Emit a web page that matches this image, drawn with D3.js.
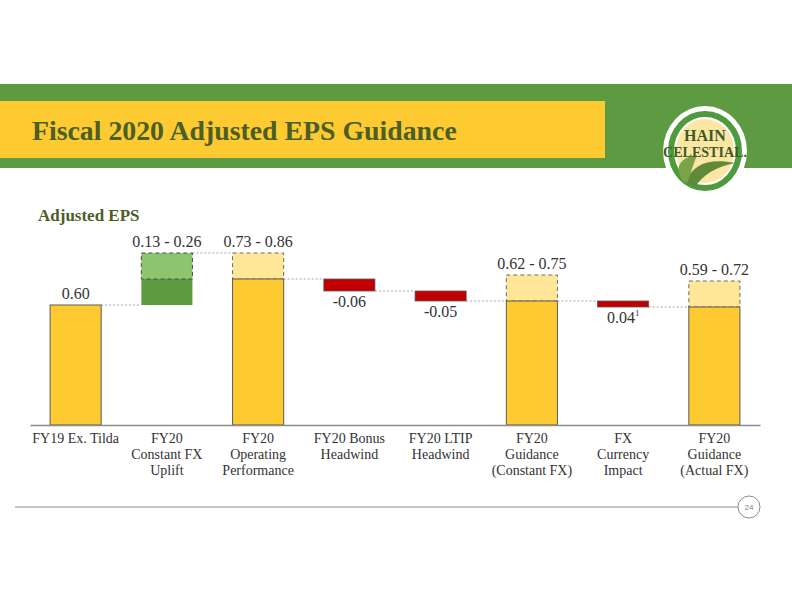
<!DOCTYPE html>
<html><head><meta charset="utf-8">
<script src="https://cdn.jsdelivr.net/npm/d3@7"></script>
<style>body{margin:0;background:#fff}svg{display:block}</style>
</head><body>
<svg id="c" width="792" height="612"></svg>
<script>
// ---- data ----
const categories = [
  ["FY19 Ex. Tilda"],
  ["FY20", "Constant FX", "Uplift"],
  ["FY20", "Operating", "Performance"],
  ["FY20 Bonus", "Headwind"],
  ["FY20 LTIP", "Headwind"],
  ["FY20", "Guidance", "(Constant FX)"],
  ["FX", "Currency", "Impact"],
  ["FY20", "Guidance", "(Actual FX)"]
];
const kinds   = ["total", "uplift", "total", "down", "down", "total", "down", "total"];
const lowVals = [0.60, 0.13, 0.73, -0.06, -0.05, 0.62, -0.03, 0.59];
const highVals= [0.60, 0.26, 0.86, -0.06, -0.05, 0.75, -0.03, 0.72];
const valueLabels = ["0.60", "0.13 - 0.26", "0.73 - 0.86", "-0.06", "-0.05", "0.62 - 0.75", "0.04", "0.59 - 0.72"];
const footnotes = ["", "", "", "", "", "", "1", ""];

// ---- layout ----
const svg = d3.select("#c");
const serif = "'Liberation Serif', 'DejaVu Serif', serif";
const olive = "#4b5e26";

// banner
svg.append("rect").attr("x",0).attr("y",84).attr("width",792).attr("height",84).attr("fill","#5d9a42");
svg.append("rect").attr("x",0).attr("y",101).attr("width",605).attr("height",57).attr("fill","#fdca31");
svg.append("text").attr("x",32).attr("y",140).attr("font-family",serif).attr("font-weight","bold")
  .attr("font-size",27.8).attr("fill",olive).text("Fiscal 2020 Adjusted EPS Guidance");

// logo
const lg = svg.append("g").attr("transform","translate(705,151)");
lg.append("ellipse").attr("rx",42).attr("ry",45).attr("fill","#ffffff");
lg.append("ellipse").attr("rx",34).attr("ry",37).attr("fill","none").attr("stroke","#4f9a3c").attr("stroke-width",6);
lg.append("ellipse").attr("rx",29).attr("ry",32).attr("fill","#fbe6a4");
lg.append("path").attr("d","M-20,32 C-12,12 5,7 30,12 C10,16 -2,24 -10,36 Z").attr("fill","#5f8a3a");
lg.append("path").attr("d","M-22,30 C-32,16 -24,6 -8,4 C-12,14 -14,22 -18,32 Z").attr("fill","#7aa34a");
lg.append("text").attr("y",-10).attr("text-anchor","middle").attr("font-family",serif).attr("font-weight","bold")
  .attr("font-size",16).attr("fill","#3d5a26").text("HAIN");
lg.append("text").attr("y",6).attr("text-anchor","middle").attr("font-family",serif).attr("font-weight","bold")
  .attr("font-size",14).attr("fill","#3d5a26").attr("textLength",84).attr("lengthAdjust","spacingAndGlyphs").text("CELESTIAL.");

// subtitle
svg.append("text").attr("x",38).attr("y",221).attr("font-family",serif).attr("font-weight","bold")
  .attr("font-size",17).attr("fill",olive).text("Adjusted EPS");

// scales
const x = d3.scaleBand().domain(d3.range(categories.length)).range([30,760]).paddingInner(0.44).paddingOuter(0.22);
const y = d3.scaleLinear().domain([0,1]).range([425,225]);
const bw = x.bandwidth();

// waterfall geometry
let running = 0;
const bars = categories.map((c,i)=>{
  const k = kinds[i];
  let o;
  if (k === "total") { o = {base:0, solid:lowVals[i], top:highVals[i]}; running = lowVals[i]; }
  else if (k === "uplift") { o = {base:running, solid:running+lowVals[i], top:running+highVals[i]}; running += lowVals[i]; }
  else { o = {base:running+lowVals[i], solid:running, top:running}; running += lowVals[i]; }
  o.end = running; o.i = i; o.k = k;
  return o;
});

const g = svg.append("g");
function drawConn(x1,x2,v){
  g.append("line").attr("x1",x1).attr("x2",x2).attr("y1",y(v)).attr("y2",y(v))
    .attr("stroke","#a6a6a6").attr("stroke-width",1).attr("stroke-dasharray","2,2");
}
// connectors
for (let i=0;i<bars.length-1;i++){
  const a = bars[i];
  const x1 = x(i)+bw, x2 = x(i+1);
  if (a.k==="uplift") drawConn(x1,x2,a.top);
  else drawConn(x1,x2,a.end);
}

// bars
bars.forEach(b=>{
  const bx = x(b.i);
  if (b.k==="total"){
    if (b.top>b.solid){
      g.append("rect").attr("x",bx).attr("y",y(b.top)).attr("width",bw).attr("height",y(b.solid)-y(b.top))
        .attr("fill","#ffe699");
      g.append("rect").attr("x",bx).attr("y",y(b.top)).attr("width",bw).attr("height",y(b.solid)-y(b.top))
        .attr("fill","none").attr("stroke","#6b6b6b").attr("stroke-width",1).attr("stroke-dasharray","4,3");
    }
    g.append("rect").attr("x",bx).attr("y",y(b.solid)).attr("width",bw).attr("height",y(0)-y(b.solid))
      .attr("fill","#fdca31").attr("stroke","#5a5a5a").attr("stroke-width",1);
  } else if (b.k==="uplift"){
    g.append("rect").attr("x",bx).attr("y",y(b.solid)).attr("width",bw).attr("height",y(b.base)-y(b.solid))
      .attr("fill","#5e9a40");
    g.append("rect").attr("x",bx).attr("y",y(b.top)).attr("width",bw).attr("height",y(b.solid)-y(b.top))
      .attr("fill","#8dc46e").attr("stroke","#4a4a4a").attr("stroke-width",1).attr("stroke-dasharray","4,3");
  } else {
    g.append("rect").attr("x",bx).attr("y",y(b.solid)).attr("width",bw).attr("height",y(b.base)-y(b.solid))
      .attr("fill","#c00000").attr("stroke","#5a5a5a").attr("stroke-width",0.8);
  }
  const cx = bx+bw/2;
  const t = g.append("text").attr("text-anchor","middle").attr("font-family",serif).attr("font-size",16).attr("fill","#333");
  if (b.k==="down") t.attr("x",cx).attr("y",y(b.base)+16);
  else t.attr("x",cx).attr("y",y(b.top)-6);
  t.text(valueLabels[b.i]);
  if (footnotes[b.i]) t.append("tspan").attr("font-size",9).attr("dy",-7).text(footnotes[b.i]);
});

// axis
const ax = svg.append("g").attr("transform","translate(0,425)")
  .call(d3.axisBottom(x).tickSize(0).tickFormat(""));
ax.select(".domain").attr("stroke","#8c8c8c").attr("stroke-width",1.5);
categories.forEach((lines,i)=>{
  const t = svg.append("text").attr("text-anchor","middle").attr("font-family",serif).attr("font-size",14).attr("fill","#333");
  lines.forEach((l,j)=> t.append("tspan").attr("x",x(i)+bw/2).attr("y",443+j*16).text(l));
});

// footer
svg.append("line").attr("x1",15).attr("x2",738).attr("y1",507).attr("y2",507).attr("stroke","#8c8c8c").attr("stroke-width",1);
svg.append("circle").attr("cx",749).attr("cy",507).attr("r",11).attr("fill","#fff").attr("stroke","#8c8c8c").attr("stroke-width",1);
svg.append("text").attr("x",749).attr("y",510).attr("text-anchor","middle").attr("font-family","'Liberation Sans', sans-serif")
  .attr("font-size",8).attr("fill","#7f7f7f").text("24");
</script>
</body></html>
